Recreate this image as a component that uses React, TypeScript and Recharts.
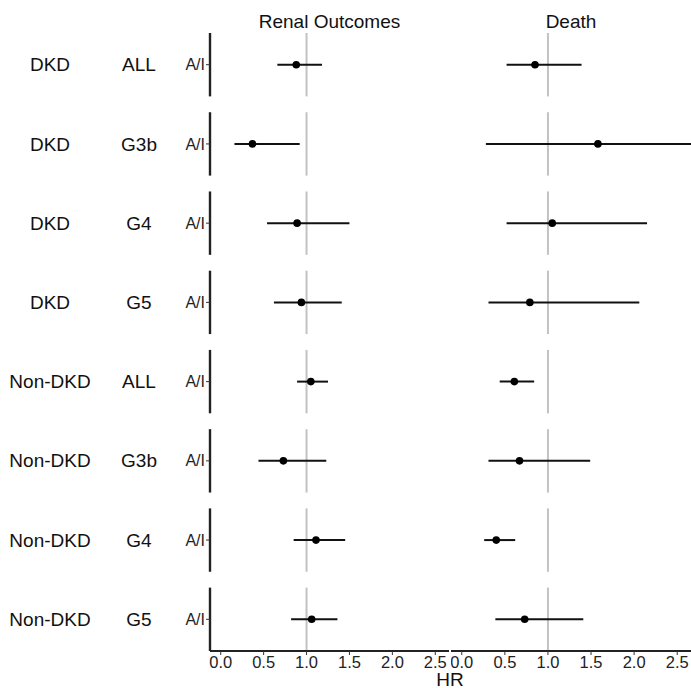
import React from "react";
import {
  ScatterChart,
  Scatter,
  XAxis,
  YAxis,
  ErrorBar,
  ReferenceLine,
} from "recharts";

const groups = ["DKD", "DKD", "DKD", "DKD", "Non-DKD", "Non-DKD", "Non-DKD", "Non-DKD"];
const stages = ["ALL", "G3b", "G4", "G5", "ALL", "G3b", "G4", "G5"];
const rowLabel = "A/I";

const renalHR = [0.88, 0.37, 0.89, 0.94, 1.05, 0.73, 1.11, 1.06];
const renalLo = [0.66, 0.16, 0.54, 0.62, 0.89, 0.44, 0.85, 0.82];
const renalHi = [1.18, 0.92, 1.5, 1.41, 1.25, 1.23, 1.45, 1.36];

const deathHR = [0.85, 1.58, 1.05, 0.79, 0.61, 0.67, 0.4, 0.73];
const deathLo = [0.52, 0.28, 0.52, 0.31, 0.44, 0.31, 0.26, 0.39];
const deathHi = [1.39, 2.75, 2.15, 2.06, 0.84, 1.49, 0.62, 1.41];

const xTicks = [0, 0.5, 1, 1.5, 2, 2.5];
const panelTitles = ["Renal Outcomes", "Death"];
const xTitle = "HR";

const FONT = "'Liberation Sans', Arial, Helvetica, sans-serif";
const X_DOMAIN: [number, number] = [-0.125, 2.66];
const Y_DOMAIN: [number, number] = [-0.4, 7.4];
const HALF = 0.4;
const rows = stages.map((_, i) => i);

function build(hr: number[], lo: number[], hi: number[]) {
  return hr.map((v, i) => ({ x: v, y: i, err: [v - lo[i], hi[i] - v] }));
}

const renalData = build(renalHR, renalLo, renalHi);
const deathData = build(deathHR, deathLo, deathHi);

const Dot = (props: any) => {
  const { cx, cy } = props;
  if (cx == null || cy == null) return null;
  return <circle cx={cx} cy={cy} r={3.8} fill="#000" />;
};

const YTick = (props: any) => {
  const { x, y, payload } = props;
  const i = payload.value as number;
  return (
    <g fontFamily={FONT}>
      <text x={50} y={y} dy="0.35em" textAnchor="middle" fontSize={19} fill="#111">
        {groups[i]}
      </text>
      <text x={139} y={y} dy="0.35em" textAnchor="middle" fontSize={19} fill="#111">
        {stages[i]}
      </text>
      <text x={x} y={y} dy="0.35em" textAnchor="end" fontSize={16} fill="#222">
        {rowLabel}
      </text>
    </g>
  );
};

function Panel({
  data,
  width,
  showY,
}: {
  data: any[];
  width: number;
  showY: boolean;
}) {
  return (
    <ScatterChart
      width={width}
      height={688}
      margin={{ top: 33, right: 0, bottom: 0, left: 0 }}
    >
      <XAxis
        type="number"
        dataKey="x"
        domain={X_DOMAIN}
        allowDataOverflow
        ticks={xTicks}
        tickFormatter={(v: number) => v.toFixed(1)}
        height={37}
        tickSize={4}
        tickMargin={1}
        axisLine={{ stroke: "#222", strokeWidth: 2 }}
        tickLine={{ stroke: "#333", strokeWidth: 1 }}
        tick={{ fontSize: 16.5, fill: "#222", fontFamily: FONT }}
        interval={0}
      />
      <YAxis
        type="number"
        dataKey="y"
        domain={Y_DOMAIN}
        allowDataOverflow
        reversed
        ticks={rows}
        interval={0}
        width={showY ? 210 : 0}
        hide={!showY}
        axisLine={false}
        tickSize={4}
        tickMargin={1}
        tickLine={{ stroke: "#333", strokeWidth: 1 }}
        tick={<YTick />}
      />
      {showY &&
        rows.map((i) => (
          <ReferenceLine
            key={"ax" + i}
            segment={[
              { x: X_DOMAIN[0], y: i - HALF },
              { x: X_DOMAIN[0], y: i + HALF },
            ]}
            stroke="#222"
            strokeWidth={2.4}
          />
        ))}
      {rows.map((i) => (
        <ReferenceLine
          key={"ref" + i}
          segment={[
            { x: 1, y: i - HALF },
            { x: 1, y: i + HALF },
          ]}
          stroke="#c2c2c2"
          strokeWidth={2}
        />
      ))}
      <Scatter data={data} shape={<Dot />} isAnimationActive={false}>
        <ErrorBar
          dataKey="err"
          direction="x"
          width={0}
          stroke="#111"
          strokeWidth={2}
          isAnimationActive={false}
        />
      </Scatter>
    </ScatterChart>
  );
}

const titleStyle: React.CSSProperties = {
  position: "absolute",
  fontFamily: FONT,
  fontSize: 19,
  lineHeight: "19px",
  color: "#111",
  textAlign: "center",
  whiteSpace: "nowrap",
};

export default function App() {
  return (
    <div
      style={{
        position: "absolute",
        left: 0,
        top: 0,
        width: 691,
        height: 688,
        overflow: "hidden",
        background: "#fff",
      }}
    >
      <div style={{ position: "absolute", left: 0, top: 0 }}>
        <Panel data={renalData} width={449} showY={true} />
      </div>
      <div style={{ position: "absolute", left: 451, top: 0 }}>
        <Panel data={deathData} width={240} showY={false} />
      </div>
      <div style={{ ...titleStyle, left: 210, width: 239, top: 12 }}>{panelTitles[0]}</div>
      <div style={{ ...titleStyle, left: 451, width: 240, top: 12 }}>{panelTitles[1]}</div>
      <div style={{ ...titleStyle, left: 400, width: 100, top: 670 }}>{xTitle}</div>
    </div>
  );
}
